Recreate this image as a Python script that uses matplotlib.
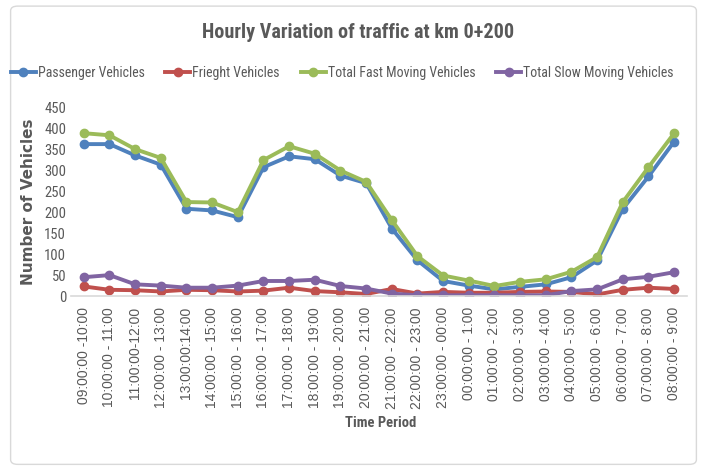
import matplotlib
matplotlib.use("Agg")
import matplotlib.pyplot as plt
from matplotlib import font_manager
from matplotlib.patches import FancyBboxPatch

# Data (vehicles per hour)
periods = [
    "09:00:00 -10:00", "10:00:00 - 11:00", "11:00:00-12:00", "12:00:00 - 13:00",
    "13:00:00:14:00", "14:00:00 - 15:00", "15:00:00 - 16:00", "16:00:00 - 17:00",
    "17:00:00 - 18:00", "18:00:00 - 19:00", "19:00:00 - 20:00", "20:00:00 - 21:00",
    "21:00:00 - 22:00", "22:00:00 - 23:00", "23:00:00 - 00:00", "00:00:00 - 1:00",
    "01:00:00 - 2:00", "02:00:00 - 3:00", "03:00:00 - 4:00", "04:00:00 - 5:00",
    "05:00:00 - 6:00", "06:00:00 - 7:00", "07:00:00 - 8:00", "08:00:00 - 9:00",
]
passenger = [362, 362, 335, 313, 208, 204, 188, 307, 333, 326, 287, 269,
             161, 85, 36, 25, 16, 22, 28, 45, 85, 208, 285, 368]
freight = [23, 15, 14, 11, 15, 14, 11, 13, 20, 12, 9, 5,
           17, 6, 10, 8, 8, 10, 11, 10, 4, 15, 20, 17]
fast_total = [388, 383, 350, 329, 224, 223, 200, 324, 357, 339, 299, 272,
              181, 95, 49, 37, 24, 34, 40, 58, 93, 224, 307, 388]
slow_total = [45, 50, 28, 25, 20, 20, 25, 36, 36, 39, 24, 18,
              6, 2, 2, 2, 2, 2, 2, 12, 16, 40, 46, 57]

series = [
    ("Passenger Vehicles", passenger, "#4F81BD"),
    ("Frieght Vehicles", freight, "#C0504D"),
    ("Total Fast Moving Vehicles", fast_total, "#9BBB59"),
    ("Total Slow Moving Vehicles", slow_total, "#8064A2"),
]


def pick_font(names):
    have = {f.name for f in font_manager.fontManager.ttflist}
    for n in names:
        if n in have:
            return n
    return "DejaVu Sans"


narrow = pick_font(["Liberation Sans Narrow", "Roboto Condensed", "Open Sans", "Liberation Sans"])
regular = pick_font(["Liberation Sans", "DejaVu Sans"])
grey = "#595959"

fig = plt.figure(figsize=(7.07, 4.70), dpi=100)
fig.patches.append(FancyBboxPatch((0.015, 0.012), 0.97, 0.975,
                                  boxstyle="round,pad=0,rounding_size=0.01",
                                  transform=fig.transFigure, fill=False,
                                  ec="#D9D9D9", lw=1.0))

ax = fig.add_axes([0.1004, 0.370, 0.8713, 0.402])
x = list(range(len(periods)))
for name, vals, col in series:
    ax.plot(x, vals, color=col, lw=2.8, marker="o", ms=6, label=name)

ax.set_xlim(-0.5, len(periods) - 0.5)
ax.set_ylim(0, 450)
ax.set_yticks(range(0, 451, 50))
ax.set_xticks(x)
ax.set_xticklabels(periods, rotation=90, fontsize=10, family=regular, color=grey)
for lab in ax.get_yticklabels():
    lab.set_family(narrow)
    lab.set_fontsize(10.5)
    lab.set_color(grey)
ax.tick_params(axis="both", length=0)
ax.tick_params(axis="x", pad=8)
for s in ["top", "right", "left"]:
    ax.spines[s].set_visible(False)
ax.spines["bottom"].set_color("#D9D9D9")
ax.spines["bottom"].set_linewidth(1.2)

ax.set_ylabel("Number of Vehicles", fontsize=11, fontweight="bold",
              family="DejaVu Sans", color=grey, labelpad=6)
fig.text(0.539, 0.100, "Time Period", ha="center", va="center",
         fontsize=10.5, fontweight="bold", family=narrow, color=grey)
fig.text(0.506, 0.930, "Hourly Variation of traffic at km 0+200", ha="center",
         va="center", fontsize=14.5, fontweight="bold", family=narrow, color=grey)

fig.legend(loc="center", bbox_to_anchor=(0.484, 0.845), ncol=4, frameon=False,
           handlelength=1.8, handletextpad=0.15, columnspacing=1.5,
           prop={"family": narrow, "size": 10}, labelcolor=grey)

fig.savefig("out.png", dpi=100)
